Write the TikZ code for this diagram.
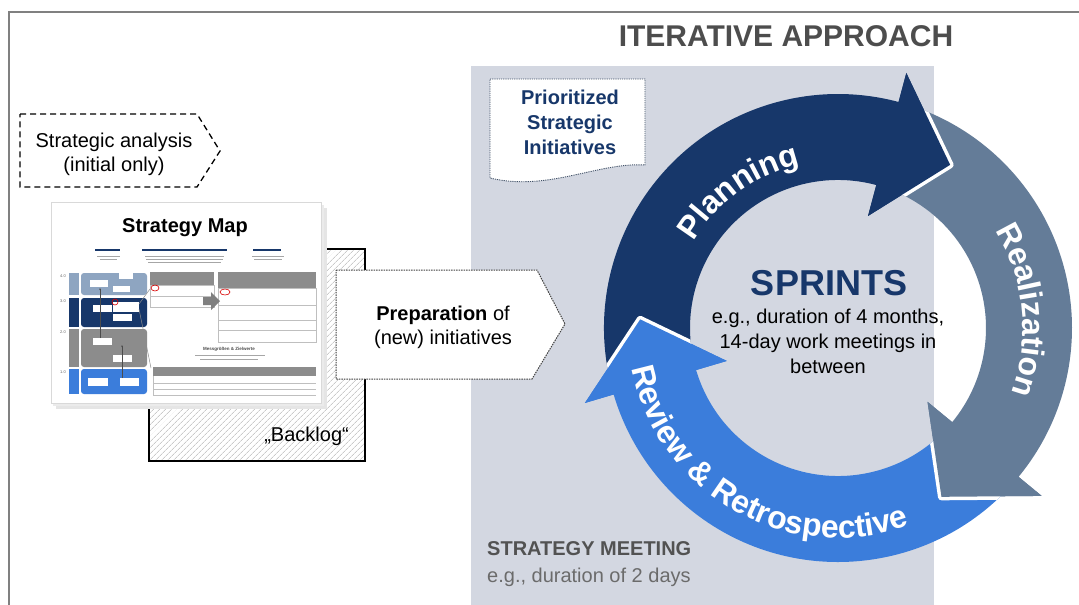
\documentclass[tikz,border=0pt]{standalone}
\usepackage{fontspec}
\setmainfont{Liberation Sans}
\usetikzlibrary{arrows.meta,decorations.text,patterns.meta}

\definecolor{panelgrey}{HTML}{D3D7E1}
\definecolor{framegrey}{HTML}{808080}
\definecolor{headgrey}{HTML}{4D4D4D}
\definecolor{navy}{HTML}{17376A}
\definecolor{slate}{HTML}{647C98}
\definecolor{skyblue}{HTML}{3B7DDB}
\definecolor{maplight}{HTML}{8EA5C1}
\definecolor{mapgrey}{HTML}{8C8C8C}
\definecolor{docline}{HTML}{44546A}

% ring of the sprint cycle
\newcommand\ringin{148pt}
\newcommand\ringout{234pt}
\newcommand\barbin{116pt}
\newcommand\barbout{264pt}
\newcommand\tipr{198pt}
% #1 tail angle, #2 head base angle, #3 tip angle
\newcommand\cyclearrow[3]{(#1:\ringout) arc[start angle=#1, end angle=#2, radius=\ringout]
  -- (#2:\barbout) -- (#3:\tipr) -- (#2:\barbin) -- (#2:\ringin)
  arc[start angle=#2, end angle=#1, radius=\ringin] -- cycle}
\newcommand\cyclehead[2]{(#1:\barbout) -- (#2:\tipr) -- (#1:\barbin) -- cycle}

\begin{document}
\begin{tikzpicture}[x=1pt, y=-1pt,
    txt/.style={inner sep=0pt, font=\fontsize{20}{24}\selectfont},
    cycletext/.style={decorate, decoration={text along path, text align=center,
      text={|\fontsize{32}{32}\selectfont\bfseries\color{white}|#1}}},
    tinyline/.style={black!35, line width=0.7pt},
    gap/.style={white, line width=7pt, line join=round}]
\useasboundingbox (0,0) rectangle (1079,605);
\clip (0,0) rectangle (1079,605);

% frame and meeting panel
\draw[framegrey, line width=1.5pt] (9,12) rectangle (1100,640);
\fill[panelgrey] (471,66) rectangle (934,605);
\node[anchor=base, inner sep=0pt, font=\fontsize{30}{30}\selectfont\bfseries, text=headgrey]
  (title) at (786,46.5) {ITERATIVE APPROACH};

% backlog
\draw[line width=1.6pt, pattern={Lines[angle=45, distance=4pt, line width=0.6pt]},
  pattern color=black!32] (149,249) rectangle (365,461);
\node[txt, anchor=base east] (backlog) at (349,441) {„Backlog“};

% strategy map sheet
\fill[black!10] (56,208) rectangle (327,409);
\fill[black!8] (53,205) rectangle (324,406);
\fill[white] (51,202) rectangle (321,403);
\draw[black!15, line width=0.5pt] (51,202) rectangle (321,403);
\node[anchor=base, inner sep=0pt, font=\fontsize{20}{20}\selectfont\bfseries]
  (mapttl) at (185,232) {Strategy Map};
\foreach \a/\b in {95/120, 142/227, 253/281}
  \draw[navy, line width=1.1pt] (\a,250) -- (\b,250);
\foreach \a/\b/\y in {97/120/256, 100/117/259, 145/224/256, 146/223/259, 148/221/262,
    252/284/256, 254/282/259}
  \draw[tinyline] (\a,\y) -- (\b,\y);
\foreach \ya/\yb/\col/\lvl [count=\i] in {273/295/maplight/4.0, 298/327/navy/3.0,
    329/367/mapgrey/2.0, 369/394/skyblue/1.0} {
  \fill[\col] (69,\ya) rectangle (79,\yb);
  \fill[\col, rounded corners=3pt] (81,\ya) rectangle (147,\yb);
  \node[inner sep=0pt, font=\fontsize{4}{4}\selectfont, text=black!60] (lvl\i) at (63,\ya+3) {\lvl};
}
\foreach \a/\b/\c/\d in {90/280/108/287, 119/273/133/279, 113/286/130/292,
    93/305/112/312, 113/302/139/312, 113/314/132/321, 93/338/112/345,
    113/355/132/362, 88/378/108/386, 120/378/139/386}
  \fill[white] (\a,\b) rectangle (\c,\d);
\draw[black!70, line width=0.5pt, -{Stealth[length=2pt]}] (100,338) -- (100,288);
\draw[black!70, line width=0.5pt, -{Stealth[length=2pt]}] (122,378) -- (122,345);
\draw[black!45, line width=0.5pt] (139,304) -- (150,289) (139,309) -- (151,368);
% tables on the sheet
\fill[mapgrey] (150,272) rectangle (214,285);
\draw[black!25, line width=0.5pt] (150,285) rectangle (214,307) (150,296) -- (214,296);
\fill[mapgrey] (218,272) rectangle (316,288);
\draw[black!25, line width=0.5pt] (218,288) rectangle (316,342) (218,305) -- (316,305)
  (218,320) -- (316,320) (218,330) -- (316,330);
\fill[black!50] (203,297) -- (211,297) -- (211,292) -- (220,301) -- (211,310)
  -- (211,305) -- (203,305) -- cycle;
\node[inner sep=0pt, font=\fontsize{4.5}{5}\selectfont\bfseries, text=black!70]
  (metrics) at (229,349) {Messgrößen \& Zielwerte};
\draw[tinyline] (195,355) -- (265,355) (200,359) -- (258,359);
\fill[mapgrey] (153,367) rectangle (316,376);
\draw[black!25, line width=0.5pt] (153,376) -- (153,395) (153,383) -- (316,383)
  (153,389) -- (316,389) (153,395) -- (316,395);
\draw[red!85!black, line width=0.6pt] (155,288) ellipse[x radius=4pt, y radius=3pt]
  (115,302) circle[radius=3pt] (225,292) ellipse[x radius=5pt, y radius=3pt];

% strategic analysis
\draw[line width=1.3pt, dash pattern=on 6pt off 4pt]
  (20,114) -- (197,114) -- (220,151) -- (197,187) -- (20,187) -- cycle;
\node[txt, align=center] (analysis) at (114,154) {Strategic analysis\\(initial only)};

% prioritized initiatives
\draw[docline, fill=white, line width=0.9pt, dash pattern=on 1.2pt off 1pt]
  (490,79) -- (645,79) -- (645,165) .. controls (598,162) and (548,192) .. (490,178) -- cycle;
\node[txt, align=center, font=\fontsize{20}{24.7}\selectfont\bfseries, text=navy]
  (prio) at (570,122.5) {Prioritized\\Strategic\\Initiatives};

% preparation of new initiatives
\draw[black!75, fill=white, line width=1pt, dash pattern=on 1.5pt off 1pt]
  (336,270) -- (537,270) -- (565,324) -- (532,379) -- (336,379) -- cycle;
\node[txt, align=center] (prep) at (443,327) {\textbf{Preparation} of\\(new) initiatives};

% sprint cycle
\begin{scope}[shift={(838,328)}]
  \fill[navy] \cyclearrow{194.5}{75}{55.5};
  \fill[slate] \cyclearrow{73.5}{-39.5}{-58.5};
  \fill[skyblue] \cyclearrow{-41}{-163.5}{-182.5};
  % every head lies on the tail before it
  \begin{scope}
    \clip \cyclearrow{73.5}{-39.5}{-58.5};
    \draw[gap] \cyclehead{75}{55.5};
  \end{scope}
  \fill[navy] \cyclehead{75}{55.5};
  \begin{scope}
    \clip \cyclearrow{-41}{-163.5}{-182.5};
    \draw[gap] \cyclehead{-39.5}{-58.5};
  \end{scope}
  \fill[slate] \cyclehead{-39.5}{-58.5};
  \begin{scope}
    \clip \cyclearrow{194.5}{75}{55.5};
    \draw[gap] \cyclehead{-163.5}{-182.5};
  \end{scope}
  \fill[skyblue] \cyclehead{-163.5}{-182.5};
  \path[cycletext=Planning] (171:168pt) arc[start angle=171, end angle=81, radius=168pt];
  \path[cycletext=Realization] (51:185pt) arc[start angle=51, end angle=-40, radius=185pt];
  \path[cycletext={Review {\&} Retrospective}] (170:210pt)
    arc[start angle=170, end angle=311, radius=210pt];
\end{scope}

\node[anchor=base, inner sep=0pt, font=\fontsize{36}{36}\selectfont\bfseries, text=navy]
  (sprints) at (829,295) {SPRINTS};
\node[txt, align=center, font=\fontsize{20}{25}\selectfont] (sprintinfo) at (828,341)
  {e.g., duration of 4 months,\\14-day work meetings in\\between};

% strategy meeting
\node[anchor=base west, inner sep=0pt, font=\fontsize{20}{20}\selectfont\bfseries,
  text=black!68] (meeting) at (487,555) {STRATEGY MEETING};
\node[anchor=base west, inner sep=0pt, font=\fontsize{20}{20}\selectfont,
  text=black!58] (meetinfo) at (487,582) {e.g., duration of 2 days};
\end{tikzpicture}
\end{document}
